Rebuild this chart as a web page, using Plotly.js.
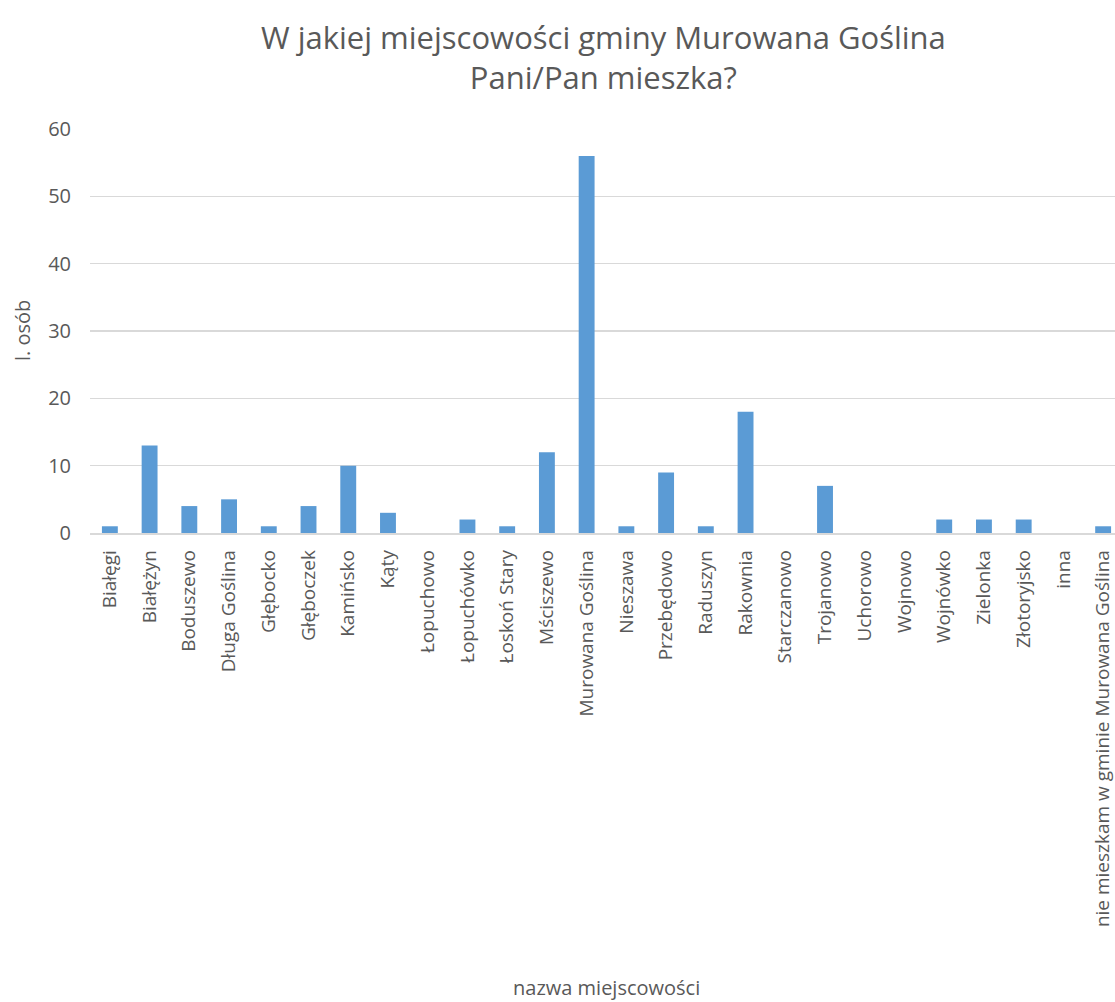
<!DOCTYPE html>
<html><head><meta charset="utf-8">
<script src="https://cdn.plot.ly/plotly-3.0.1.min.js"></script>
<style>html,body{margin:0;padding:0;overflow:hidden;background:#fff}</style>
</head><body><div id="chart"></div>
<script>
const categories = ["Białęgi","Białężyn","Boduszewo","Długa Goślina","Głębocko","Głęboczek","Kamińsko","Kąty","Łopuchowo","Łopuchówko","Łoskoń Stary","Mściszewo","Murowana Goślina","Nieszawa","Przebędowo","Raduszyn","Rakownia","Starczanowo","Trojanowo","Uchorowo","Wojnowo","Wojnówko","Zielonka","Złotoryjsko","inna","nie mieszkam w gminie Murowana Goślina"];
const values = [1,13,4,5,1,4,10,3,0,2,1,12,56,1,9,1,18,0,7,0,0,2,2,2,0,1];
const yTicks = [0,10,20,30,40,50,60];
const chartTitle = 'W jakiej miejscowości gminy Murowana Goślina<br>Pani/Pan mieszka?';
const xTitle = 'nazwa miejscowości';
const yTitle = 'l. osób';

Plotly.newPlot('chart', [{
  type: 'bar', x: categories, y: values,
  marker: {color: '#5B9BD5'}, hoverinfo: 'x+y'
}], {
  width: 1124, height: 1002,
  margin: {l: 90, r: 1, t: 129, b: 469},
  paper_bgcolor: '#fff', plot_bgcolor: '#fff',
  font: {family: 'Open Sans, sans-serif', color: '#595959', size: 19},
  bargap: 0.6,
  title: {text: chartTitle, x: 0.497, xref: 'paper', xanchor: 'center', y: 0.951, yanchor: 'middle', font: {size: 31, color: '#595959'}},
  xaxis: {type: 'category', tickangle: -90, showgrid: false, showline: true, linecolor: '#d9d9d9', linewidth: 1.5, ticks: 'outside', ticklen: 8, tickcolor: 'rgba(0,0,0,0)',
    tickfont: {size: 19}, automargin: false},
  yaxis: {range: [0, 60], tickvals: yTicks, showgrid: true, gridcolor: '#d9d9d9', gridwidth: 1.3, zeroline: false, showline: false,
    ticks: 'outside', ticklen: 14, tickcolor: 'rgba(0,0,0,0)', tickfont: {size: 20}, automargin: false},
  annotations: [
    {text: xTitle, xref: 'paper', yref: 'paper', x: 0.5, y: -(987 - 533) / 404, xanchor: 'center', yanchor: 'middle', showarrow: false, font: {size: 20, color: '#595959'}},
    {text: yTitle, xref: 'paper', yref: 'paper', x: (22 - 90) / 1033, y: 0.5, xanchor: 'center', yanchor: 'middle', textangle: -90, showarrow: false, font: {size: 20, color: '#595959'}}
  ]
}, {displayModeBar: false, staticPlot: true});
</script></body></html>
